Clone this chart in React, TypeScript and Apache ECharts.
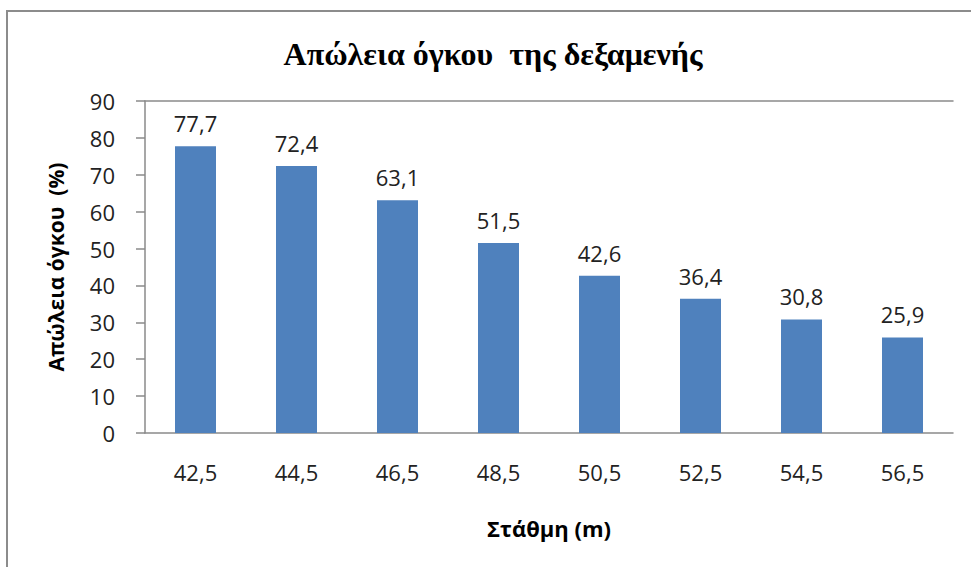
import React, { useEffect, useRef } from "react";
import * as echarts from "echarts";

// Reservoir level (m) and matching volume loss (%)
const levels = ["42,5", "44,5", "46,5", "48,5", "50,5", "52,5", "54,5", "56,5"];
const volumeLoss = [77.7, 72.4, 63.1, 51.5, 42.6, 36.4, 30.8, 25.9];

const titleText = "Απώλεια όγκου  της δεξαμενής";
const yAxisTitle = "Απώλεια όγκου  (%)";
const xAxisTitle = "Στάθμη (m)";

const sans = "'Open Sans', 'Noto Sans', sans-serif";
const axisGray = "#8a8a8a";
const textColor = "#222";

export default function App() {
  const ref = useRef<HTMLDivElement>(null);

  useEffect(() => {
    if (!ref.current) return;
    const chart = echarts.init(ref.current, undefined, { renderer: "svg" });
    chart.setOption({
      animation: false,
      backgroundColor: "#fff",
      title: {
        text: titleText,
        left: 488,
        top: 33,
        textAlign: "center",
        textStyle: {
          fontFamily: "'Liberation Serif', 'DejaVu Serif', serif",
          fontWeight: "bold",
          fontSize: 32,
          color: "#000",
        },
      },
      graphic: [
        {
          type: "rect",
          shape: { x: 7, y: 11, width: 1000, height: 600 },
          style: { fill: "none", stroke: "#8c8c8c", lineWidth: 2 },
          silent: true,
        },
      ],
      grid: { left: 145, right: 18, top: 101, bottom: 134 },
      xAxis: [
        {
          type: "category",
          data: levels,
          position: "bottom",
          axisLine: { show: true, lineStyle: { color: axisGray, width: 1.5 } },
          axisTick: { show: false },
          axisLabel: { fontFamily: sans, fontSize: 22, color: textColor, margin: 28 },
          name: xAxisTitle,
          nameLocation: "middle",
          nameGap: 84,
          nameTextStyle: { fontFamily: sans, fontSize: 22, fontWeight: "bold", color: "#000" },
        },
        {
          type: "category",
          data: levels,
          position: "top",
          axisLine: { show: true, lineStyle: { color: axisGray, width: 1.5 } },
          axisTick: { show: false },
          axisLabel: { show: false },
        },
      ],
      yAxis: {
        type: "value",
        min: 0,
        max: 90,
        interval: 10,
        axisLine: { show: true, lineStyle: { color: axisGray, width: 1.5 } },
        axisTick: { show: true, length: 9, inside: false, lineStyle: { color: axisGray, width: 1.5 } },
        splitLine: { show: false },
        axisLabel: { fontFamily: sans, fontSize: 22, color: textColor, margin: 30 },
        name: yAxisTitle,
        nameLocation: "middle",
        nameRotate: 90,
        nameGap: 79,
        nameTextStyle: { fontFamily: sans, fontSize: 21, fontWeight: "bold", color: "#000" },
      },
      series: [
        {
          type: "bar",
          data: volumeLoss,
          barWidth: 41,
          itemStyle: { color: "#4f81bd" },
          label: {
            show: true,
            position: "top",
            distance: 12,
            fontFamily: sans,
            fontSize: 22,
            color: textColor,
            formatter: (p: any) => String(p.value).replace(".", ","),
          },
        },
      ],
    });
    return () => chart.dispose();
  }, []);

  return (
    <div
      ref={ref}
      style={{ position: "fixed", left: 0, top: 0, width: 971, height: 567 }}
    />
  );
}
